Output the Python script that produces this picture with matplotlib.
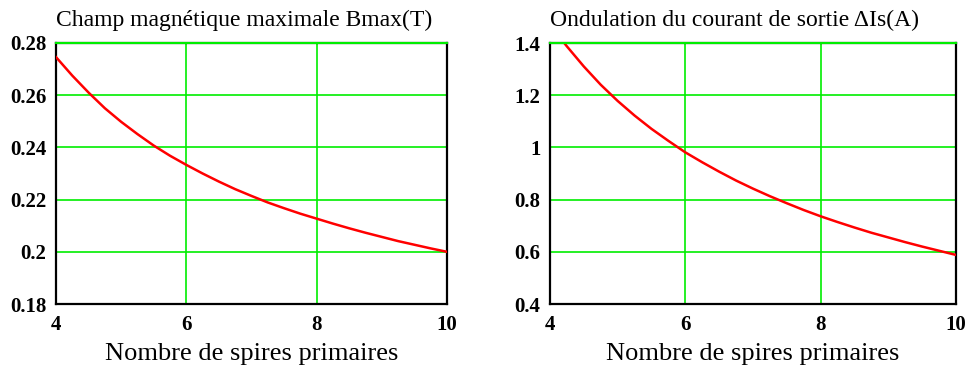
import matplotlib
matplotlib.use("Agg")
import matplotlib.pyplot as plt

# values
spires = [4, 4.25, 4.5, 4.75, 5, 5.25, 5.5, 5.75, 6, 6.25, 6.5, 6.75, 7,
          7.25, 7.5, 7.75, 8, 8.25, 8.5, 8.75, 9, 9.25, 9.5, 9.75, 10]
bmax = [0.2746, 0.2675, 0.2610, 0.2550, 0.2498, 0.2451, 0.2407, 0.2368,
        0.2333, 0.2300, 0.2269, 0.2240, 0.2214, 0.2189, 0.2167, 0.2146,
        0.2127, 0.2108, 0.2090, 0.2073, 0.2057, 0.2041, 0.2027, 0.2013,
        0.2000]
delta_is = [1.470, 1.387, 1.310, 1.240, 1.178, 1.122, 1.071, 1.025, 0.981,
            0.943, 0.907, 0.873, 0.842, 0.813, 0.786, 0.760, 0.736, 0.714,
            0.693, 0.673, 0.655, 0.637, 0.620, 0.604, 0.588]

titles = ["Champ magnétique maximale Bmax(T)",
          "Ondulation du courant de sortie ΔIs(A)"]
xlabel = "Nombre de spires primaires"
xticks = [4, 6, 8, 10]
yticks_b = [0.18, 0.2, 0.22, 0.24, 0.26, 0.28]
yticks_i = [0.4, 0.6, 0.8, 1, 1.2, 1.4]
yticklabels_b = ["0.18", "0.2", "0.22", "0.24", "0.26", "0.28"]
yticklabels_i = ["0.4", "0.6", "0.8", "1", "1.2", "1.4"]

plt.rcParams["font.family"] = ["Liberation Serif", "DejaVu Serif"]

fig = plt.figure(figsize=(9.71, 3.69), dpi=100)
ax1 = fig.add_axes([56 / 971, 1 - 304 / 369, 391 / 971, 261 / 369])
ax2 = fig.add_axes([550 / 971, 1 - 304 / 369, 406 / 971, 261 / 369])

panels = [
    (ax1, bmax, yticks_b, yticklabels_b, titles[0]),
    (ax2, delta_is, yticks_i, yticklabels_i, titles[1]),
]

for ax, y, yt, ytl, title in panels:
    ax.plot(spires, y, color="red", lw=1.8, zorder=3)
    ax.set_xlim(4, 10)
    ax.set_ylim(yt[0], yt[-1])
    ax.set_xticks(xticks)
    ax.set_xticklabels([str(t) for t in xticks], fontsize=15, fontweight="bold")
    ax.set_yticks(yt)
    ax.set_yticklabels(ytl, fontsize=15, fontweight="bold")
    ax.tick_params(axis="x", length=0, pad=8)
    ax.tick_params(axis="y", length=0, pad=7)
    ax.grid(True, color="#00ee00", lw=1.2)
    ax.axhline(yt[-1], color="#00ee00", lw=1.5, zorder=4, clip_on=False)
    for s in ax.spines.values():
        s.set_color("black")
        s.set_linewidth(1.6)
    ax.set_title(title, loc="left", fontsize=17, pad=12)
    ax.set_xlabel(xlabel, fontsize=19, labelpad=6)

fig.savefig("out.png", dpi=100)
